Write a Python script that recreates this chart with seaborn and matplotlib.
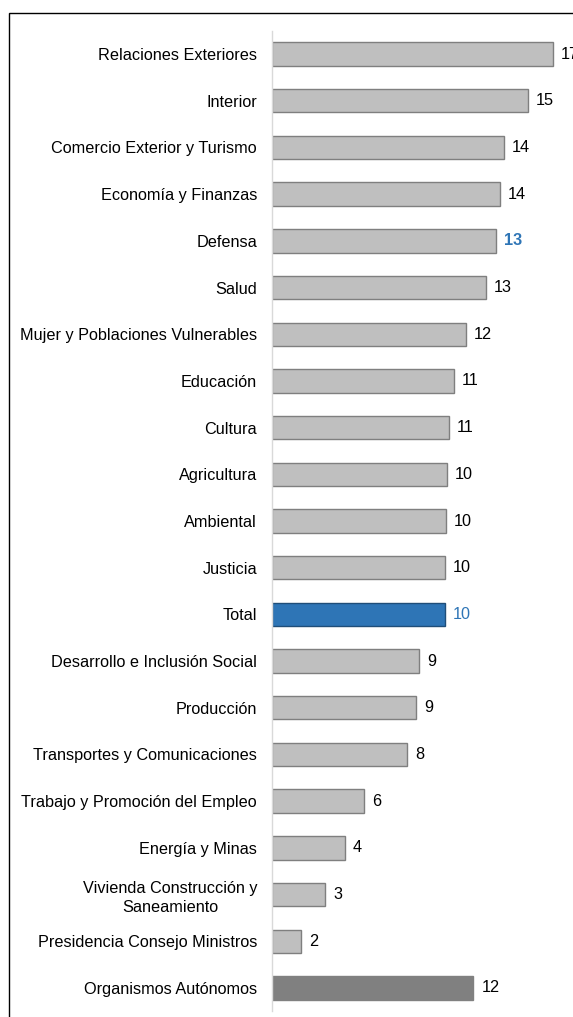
import matplotlib
matplotlib.use("Agg")
import matplotlib.pyplot as plt
import seaborn as sns
import pandas as pd
from matplotlib.patches import Rectangle

categories = [
    "Relaciones Exteriores", "Interior", "Comercio Exterior y Turismo",
    "Economía y Finanzas", "Defensa", "Salud",
    "Mujer y Poblaciones Vulnerables", "Educación", "Cultura", "Agricultura",
    "Ambiental", "Justicia", "Total", "Desarrollo e Inclusión Social",
    "Producción", "Transportes y Comunicaciones",
    "Trabajo y Promoción del Empleo", "Energía y Minas",
    "Vivienda Construcción y\nSaneamiento", "Presidencia Consejo Ministros",
    "Organismos Autónomos",
]
values = [16.83, 15.33, 13.91, 13.67, 13.45, 12.81, 11.62, 10.93, 10.60, 10.48,
          10.42, 10.36, 10.36, 8.82, 8.66, 8.12, 5.51, 4.37, 3.19, 1.75, 12.07]
value_labels = ["17", "15", "14", "14", "13", "13", "12", "11", "11", "10",
                "10", "10", "10", "9", "9", "8", "6", "4", "3", "2", "12"]

W, H = 573, 1017
sns.set_theme(style="white")
plt.rcParams['font.family'] = ['Liberation Sans', 'DejaVu Sans']

fig = plt.figure(figsize=(W / 100, H / 100), dpi=100)
x0, y_top, y_bot = 271.7, 30.7, 1011.3
ax = fig.add_axes([x0 / W, 1 - y_bot / H, (W - x0) / W, (y_bot - y_top) / H])

df = pd.DataFrame({"cat": categories, "val": values})
palette = {c: "#bfbfbf" for c in categories}
palette["Total"] = "#2e75b6"
palette["Organismos Autónomos"] = "#808080"
edges = {c: "#7f7f7f" for c in categories}
edges["Total"] = "#1f4e79"
edges["Organismos Autónomos"] = "#808080"

sns.barplot(data=df, y="cat", x="val", hue="cat", palette=palette,
            order=categories, hue_order=categories, width=0.5,
            legend=False, ax=ax, saturation=1)
for cont, c in zip(ax.containers, categories):
    for p in cont:
        p.set_edgecolor(edges[c])
        p.set_linewidth(1.0)

px_per_unit = 16.7
fs = 11.7
ax.set_xlim(0, (W - x0) / px_per_unit)
ax.set_xlabel("")
ax.set_ylabel("")
ax.set_xticks([])
for s in ["top", "right", "bottom"]:
    ax.spines[s].set_visible(False)
ax.spines["left"].set_color("#d9d9d9")
ax.spines["left"].set_linewidth(1.0)
ax.tick_params(axis="y", length=0, pad=10.5, labelsize=fs, labelcolor="black")
for t in ax.get_yticklabels():
    t.set_multialignment("center")
    t.set_linespacing(1.3)

for i, (c, v, lab) in enumerate(zip(categories, values, value_labels)):
    color, weight = "black", "normal"
    if c == "Defensa":
        color, weight = "#2e75b6", "bold"
    elif c == "Total":
        color = "#2e75b6"
    ax.text(v + 8 / px_per_unit, i, lab, va="center", ha="left",
            fontsize=fs, color=color, fontweight=weight, clip_on=False)

fig.add_artist(Rectangle((9 / W, -0.1), 2, 1 - 13 / H + 0.1,
                         transform=fig.transFigure, fill=False,
                         edgecolor="black", linewidth=1.0))

fig.savefig("out.png", dpi=100)
